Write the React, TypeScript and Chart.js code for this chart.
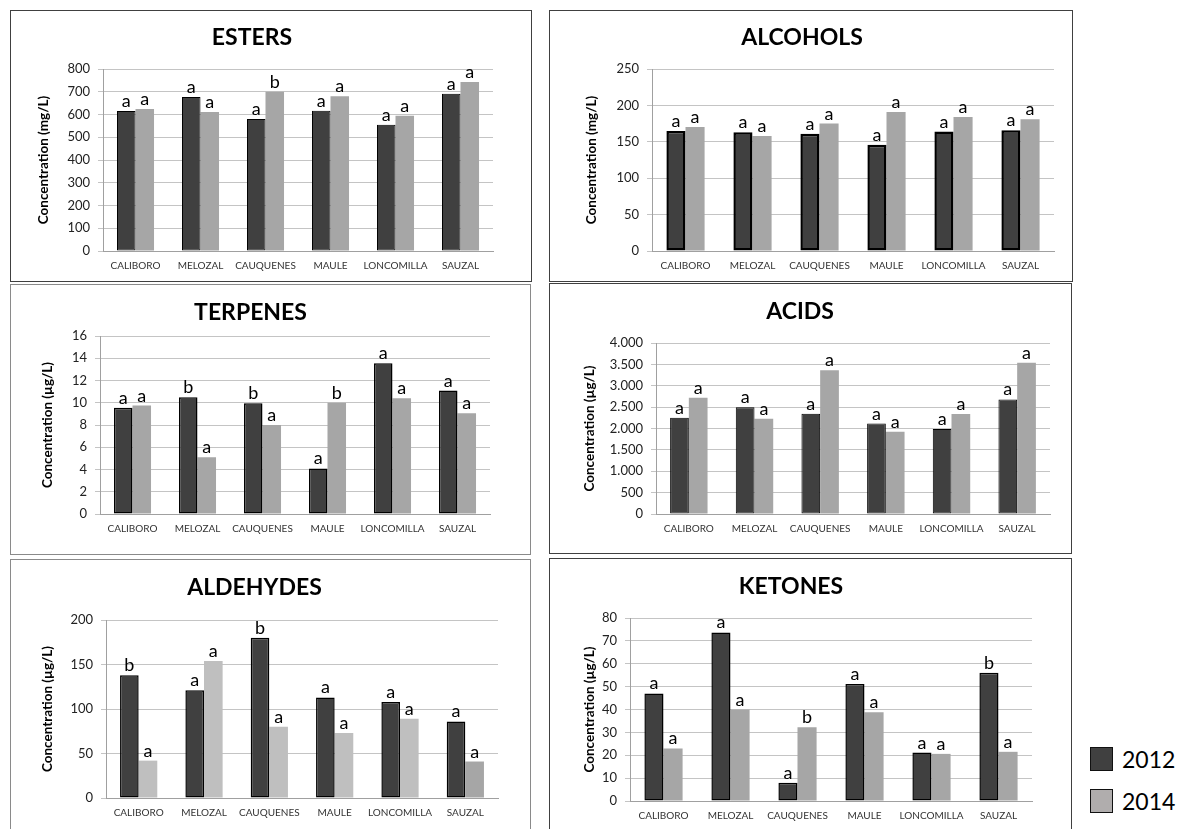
import React, { useEffect, useRef } from "react";
import { Chart, registerables } from "chart.js";

Chart.register(...registerables);
Chart.defaults.font.family = "Lato";
Chart.defaults.color = "#222222";

// ---------- DATA ----------
const CATEGORIES = ["CALIBORO", "MELOZAL", "CAUQUENES", "MAULE", "LONCOMILLA", "SAUZAL"];
const SERIES_NAMES = ["2012", "2014"];

const ESTERS_2012 = [615, 677, 580, 617, 555, 691];
const ESTERS_2014 = [624, 611, 700, 680, 594, 743];
const ESTERS_LETTERS_2012 = ["a", "a", "a", "a", "a", "a"];
const ESTERS_LETTERS_2014 = ["a", "a", "b", "a", "a", "a"];
const ESTERS_TICKS = ["0", "100", "200", "300", "400", "500", "600", "700", "800"];

const ALCOHOLS_2012 = [165, 163, 161, 146, 164, 166];
const ALCOHOLS_2014 = [170.5, 158, 175, 191, 184, 181];
const ALCOHOLS_LETTERS_2012 = ["a", "a", "a", "a", "a", "a"];
const ALCOHOLS_LETTERS_2014 = ["a", "a", "a", "a", "a", "a"];
const ALCOHOLS_TICKS = ["0", "50", "100", "150", "200", "250"];

const TERPENES_2012 = [9.55, 10.5, 9.95, 4.1, 13.55, 11.1];
const TERPENES_2014 = [9.75, 5.1, 8.0, 10.0, 10.4, 9.05];
const TERPENES_LETTERS_2012 = ["a", "b", "b", "a", "a", "a"];
const TERPENES_LETTERS_2014 = ["a", "a", "a", "b", "a", "a"];
const TERPENES_TICKS = ["0", "2", "4", "6", "8", "10", "12", "14", "16"];

const ACIDS_2012 = [2250, 2495, 2345, 2115, 1990, 2680];
const ACIDS_2014 = [2720, 2230, 3360, 1925, 2340, 3540];
const ACIDS_LETTERS_2012 = ["a", "a", "a", "a", "a", "a"];
const ACIDS_LETTERS_2014 = ["a", "a", "a", "a", "a", "a"];
const ACIDS_TICKS = ["0", "500", "1.000", "1.500", "2.000", "2.500", "3.000", "3.500", "4.000"];

const ALDEHYDES_2012 = [138, 121, 180, 113, 108, 86];
const ALDEHYDES_2014 = [42, 154, 80, 73, 89, 41];
const ALDEHYDES_LETTERS_2012 = ["b", "a", "b", "a", "a", "a"];
const ALDEHYDES_LETTERS_2014 = ["a", "a", "a", "a", "a", "a"];
const ALDEHYDES_TICKS = ["0", "50", "100", "150", "200"];

const KETONES_2012 = [47, 73.7, 8, 51.2, 21.2, 56.1];
const KETONES_2014 = [23, 40, 32.2, 38.8, 20.6, 21.5];
const KETONES_LETTERS_2012 = ["a", "a", "a", "a", "a", "b"];
const KETONES_LETTERS_2014 = ["a", "a", "b", "a", "a", "a"];
const KETONES_TICKS = ["0", "10", "20", "30", "40", "50", "60", "70", "80"];

// ---------- STYLE / LAYOUT ----------
const DARK = "#404040";
const LIGHT = "#a6a6a6";
const LIGHTER = "#bfbfbf";

type PanelDef = {
  title: string;
  unit: string;
  d12: number[];
  d14: number[];
  l12: string[];
  l14: string[];
  ticks: string[];
  max: number;
  step: number;
  box: [number, number, number, number];
  plot: [number, number, number, number]; // left, right, top, bottom
  titleCY: number;
  yTitleCX: number;
  borderColor: string;
  darkBorder: number;
  lightColors: string[];
};

const PANELS: PanelDef[] = [
  {
    title: "ESTERS", unit: "Concentration (mg/L)",
    d12: ESTERS_2012, d14: ESTERS_2014, l12: ESTERS_LETTERS_2012, l14: ESTERS_LETTERS_2014,
    ticks: ESTERS_TICKS, max: 800, step: 100,
    box: [10, 10, 531, 281], plot: [103, 493, 69, 251], titleCY: 38, yTitleCX: 44,
    borderColor: "#404040", darkBorder: 1, lightColors: CATEGORIES.map(() => LIGHT),
  },
  {
    title: "ALCOHOLS", unit: "Concentration (mg/L)",
    d12: ALCOHOLS_2012, d14: ALCOHOLS_2014, l12: ALCOHOLS_LETTERS_2012, l14: ALCOHOLS_LETTERS_2014,
    ticks: ALCOHOLS_TICKS, max: 250, step: 50,
    box: [549, 10, 1072, 281], plot: [652, 1054, 69, 251], titleCY: 38, yTitleCX: 592,
    borderColor: "#404040", darkBorder: 2.5, lightColors: CATEGORIES.map(() => LIGHT),
  },
  {
    title: "TERPENES", unit: "Concentration (µg/L)",
    d12: TERPENES_2012, d14: TERPENES_2014, l12: TERPENES_LETTERS_2012, l14: TERPENES_LETTERS_2014,
    ticks: TERPENES_TICKS, max: 16, step: 2,
    box: [10, 284, 530, 554], plot: [100, 490, 336, 514], titleCY: 313, yTitleCX: 48,
    borderColor: "#8a8a8a", darkBorder: 1.5, lightColors: CATEGORIES.map(() => LIGHT),
  },
  {
    title: "ACIDS", unit: "Concentration (µg/L)",
    d12: ACIDS_2012, d14: ACIDS_2014, l12: ACIDS_LETTERS_2012, l14: ACIDS_LETTERS_2014,
    ticks: ACIDS_TICKS, max: 4000, step: 500,
    box: [549, 283, 1071, 553], plot: [656, 1050, 343, 514], titleCY: 312, yTitleCX: 590,
    borderColor: "#404040", darkBorder: 1, lightColors: CATEGORIES.map(() => LIGHT),
  },
  {
    title: "ALDEHYDES", unit: "Concentration (µg/L)",
    d12: ALDEHYDES_2012, d14: ALDEHYDES_2014, l12: ALDEHYDES_LETTERS_2012, l14: ALDEHYDES_LETTERS_2014,
    ticks: ALDEHYDES_TICKS, max: 200, step: 50,
    box: [10, 559, 530, 840], plot: [106, 498, 620, 798], titleCY: 588, yTitleCX: 48,
    borderColor: "#8a8a8a", darkBorder: 1.5,
    lightColors: [LIGHTER, LIGHTER, LIGHTER, LIGHTER, LIGHTER, LIGHT],
  },
  {
    title: "KETONES", unit: "Concentration (µg/L)",
    d12: KETONES_2012, d14: KETONES_2014, l12: KETONES_LETTERS_2012, l14: KETONES_LETTERS_2014,
    ticks: KETONES_TICKS, max: 80, step: 10,
    box: [549, 558, 1071, 840], plot: [630, 1032, 618, 801], titleCY: 587, yTitleCX: 590,
    borderColor: "#404040", darkBorder: 1.5, lightColors: CATEGORIES.map(() => LIGHT),
  },
];

const letterPlugin = {
  id: "sigLetters",
  afterDatasetsDraw(chart: any, _args: any, opts: any) {
    const letters: string[][] = opts.letters || [];
    const ctx = chart.ctx;
    ctx.save();
    ctx.font = "18px Lato";
    ctx.fillStyle = "#000000";
    ctx.textAlign = "center";
    ctx.textBaseline = "alphabetic";
    letters.forEach((arr, di) => {
      const meta = chart.getDatasetMeta(di);
      meta.data.forEach((el: any, i: number) => {
        if (arr[i]) ctx.fillText(arr[i], el.x, el.y - 4);
      });
    });
    ctx.restore();
  },
};

function Panel({ p }: { p: PanelDef }) {
  const ref = useRef<HTMLCanvasElement>(null);
  const W = p.box[2] - p.box[0] - 1;
  const H = p.box[3] - p.box[1] - 1;
  useEffect(() => {
    const innerLeft = p.box[0] + 1;
    const innerTop = p.box[1] + 1;
    const [l, r, t, b] = p.plot;
    const titleSize = 23;
    const tlh = titleSize * 1.2;
    const tPadTop = p.titleCY - innerTop - tlh / 2;
    const tPadBottom = t - innerTop - tPadTop - tlh;
    const ySize = 13.5;
    const ylh = ySize * 1.2;
    const yPadTop = p.yTitleCX - innerLeft - ylh / 2;
    const yAxisWidth = l - innerLeft;
    const padRight = innerLeft + W - r;
    const xAxisHeight = innerTop + H - b;

    const chart = new Chart(ref.current as HTMLCanvasElement, {
      type: "bar",
      data: {
        labels: CATEGORIES,
        datasets: [
          {
            label: SERIES_NAMES[0],
            data: p.d12,
            backgroundColor: DARK,
            borderColor: "#000000",
            borderWidth: p.darkBorder,
            borderSkipped: false,
          },
          {
            label: SERIES_NAMES[1],
            data: p.d14,
            backgroundColor: p.lightColors,
            borderWidth: 0,
          },
        ],
      },
      options: {
        responsive: false,
        animation: false,
        events: [],
        layout: { padding: { left: 0, right: padRight, top: 0, bottom: 0 } },
        datasets: { bar: { categoryPercentage: 0.57, barPercentage: 1.0 } },
        plugins: {
          legend: { display: false },
          tooltip: { enabled: false },
          title: {
            display: true,
            text: p.title,
            color: "#000000",
            font: { size: titleSize, weight: "bold", lineHeight: 1.2 },
            padding: { top: tPadTop, bottom: tPadBottom },
          },
          sigLetters: { letters: [p.l12, p.l14] },
        } as any,
        scales: {
          x: {
            type: "category",
            grid: { display: false, drawTicks: false },
            border: { display: true, color: "#a0a0a0", width: 1 },
            ticks: {
              font: { size: 10 },
              color: "#333333",
              padding: 9,
              autoSkip: false,
              maxRotation: 0,
              minRotation: 0,
            },
            afterFit: (s: any) => {
              s.height = xAxisHeight;
            },
          },
          y: {
            type: "linear",
            min: 0,
            max: p.max,
            grid: { color: "#c4c4c4", lineWidth: 1, drawTicks: true, tickLength: 5, tickColor: "#c4c4c4" },
            border: { display: true, color: "#a0a0a0", width: 1 },
            ticks: {
              stepSize: p.step,
              font: { size: 13 },
              color: "#222222",
              padding: 8,
              callback: (_v: any, i: number) => p.ticks[i],
            },
            title: {
              display: true,
              text: p.unit,
              color: "#000000",
              font: { size: ySize, weight: "bold", lineHeight: 1.2 },
              padding: { top: yPadTop, bottom: 0 },
            },
            afterFit: (s: any) => {
              s.width = yAxisWidth;
            },
          },
        },
      } as any,
      plugins: [letterPlugin as any],
    });
    return () => chart.destroy();
  }, [p, W, H]);

  return (
    <div
      style={{
        position: "absolute",
        left: p.box[0],
        top: p.box[1],
        width: W,
        height: H,
        border: `1px solid ${p.borderColor}`,
        background: "#ffffff",
      }}
    >
      <canvas ref={ref} width={W} height={H} style={{ display: "block", width: W, height: H }} />
    </div>
  );
}

function LegendItem({ top, color, label }: { top: number; color: string; label: string }) {
  return (
    <>
      <div
        style={{
          position: "absolute",
          left: 1090,
          top,
          width: 21,
          height: 22,
          background: color,
          border: "1px solid #111111",
        }}
      />
      <div
        style={{
          position: "absolute",
          left: 1122,
          top: top - 3,
          height: 30,
          lineHeight: "30px",
          fontFamily: "Lato",
          fontSize: 23,
          color: "#000000",
        }}
      >
        {label}
      </div>
    </>
  );
}

export default function App() {
  return (
    <div
      style={{
        position: "fixed",
        left: 0,
        top: 0,
        width: 1180,
        height: 829,
        overflow: "hidden",
        background: "#ffffff",
      }}
    >
      {PANELS.map((p) => (
        <Panel key={p.title} p={p} />
      ))}
      <LegendItem top={747} color={DARK} label={SERIES_NAMES[0]} />
      <LegendItem top={789} color="#b0adad" label={SERIES_NAMES[1]} />
    </div>
  );
}
